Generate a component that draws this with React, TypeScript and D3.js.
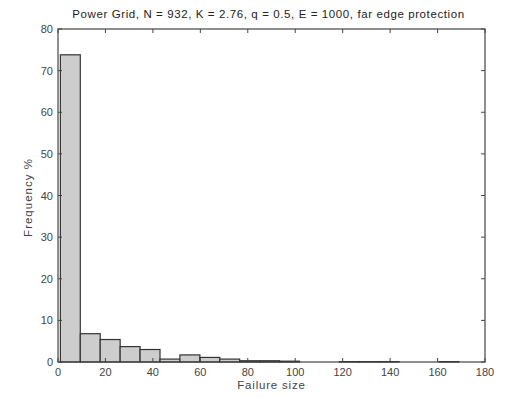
import React from "react";
import * as d3 from "d3";

const binStart = 1;
const binWidth = 8.4;
const frequencies = [73.8, 6.8, 5.4, 3.7, 3.0, 0.7, 1.7, 1.1, 0.7, 0.3, 0.3, 0.2, 0, 0, 0.1, 0.1, 0.1, 0, 0, 0.1];
const xTicks = [0, 20, 40, 60, 80, 100, 120, 140, 160, 180];
const yTicks = [0, 10, 20, 30, 40, 50, 60, 70, 80];
const title = "Power Grid, N = 932, K = 2.76, q = 0.5, E = 1000, far edge protection";

export default function App() {
  const W = 509, H = 397;
  const left = 58, right = 485, top = 29, bottom = 362;
  const x = d3.scaleLinear().domain([0, 180]).range([left, right]);
  const y = d3.scaleLinear().domain([0, 80]).range([bottom, top]);
  const font = "Liberation Sans, Arial, sans-serif";
  const tl = 4;
  return (
    <svg width={W} height={H} style={{ position: "absolute", left: 0, top: 0, background: "#fff" }}>
      <rect x={0} y={0} width={W} height={H} fill="#fff" />
      <text x={(left + right) / 2 - 3} y={18} textAnchor="middle" fontFamily={font} fontSize={11.5} letterSpacing={0.6} fill="#222">{title}</text>
      {frequencies.map((f, i) => {
        const x0 = x(binStart + i * binWidth);
        const x1 = x(binStart + (i + 1) * binWidth);
        return (
          <rect key={i} x={x0} y={y(f)} width={x1 - x0} height={Math.max(0, y(0) - y(f))}
            fill="#cdcdcd" stroke="#333" strokeWidth={1.2} />
        );
      })}
      <rect x={left} y={top} width={right - left} height={bottom - top} fill="none" stroke="#444" strokeWidth={1.2} />
      {xTicks.map((t) => (
        <g key={"x" + t}>
          <line x1={x(t)} x2={x(t)} y1={bottom} y2={bottom - tl} stroke="#444" />
          <line x1={x(t)} x2={x(t)} y1={top} y2={top + tl} stroke="#444" />
          <text x={x(t)} y={bottom + 14} textAnchor="middle" fontFamily={font} fontSize={11} fill="#444">{t}</text>
        </g>
      ))}
      {yTicks.map((t) => (
        <g key={"y" + t}>
          <line x1={left} x2={left + tl} y1={y(t)} y2={y(t)} stroke="#444" />
          <line x1={right} x2={right - tl} y1={y(t)} y2={y(t)} stroke="#444" />
          <text x={left - 5} y={y(t) + 4} textAnchor="end" fontFamily={font} fontSize={11} fill="#444">{t}</text>
        </g>
      ))}
      <text x={(left + right) / 2} y={389} textAnchor="middle" fontFamily={font} fontSize={11.5} letterSpacing={0.8} fill="#444">Failure size</text>
      <text transform={`translate(32,${(top + bottom) / 2 + 2}) rotate(-90)`} textAnchor="middle" fontFamily={font} fontSize={11.5} letterSpacing={1} fill="#444">Frequency %</text>
    </svg>
  );
}
